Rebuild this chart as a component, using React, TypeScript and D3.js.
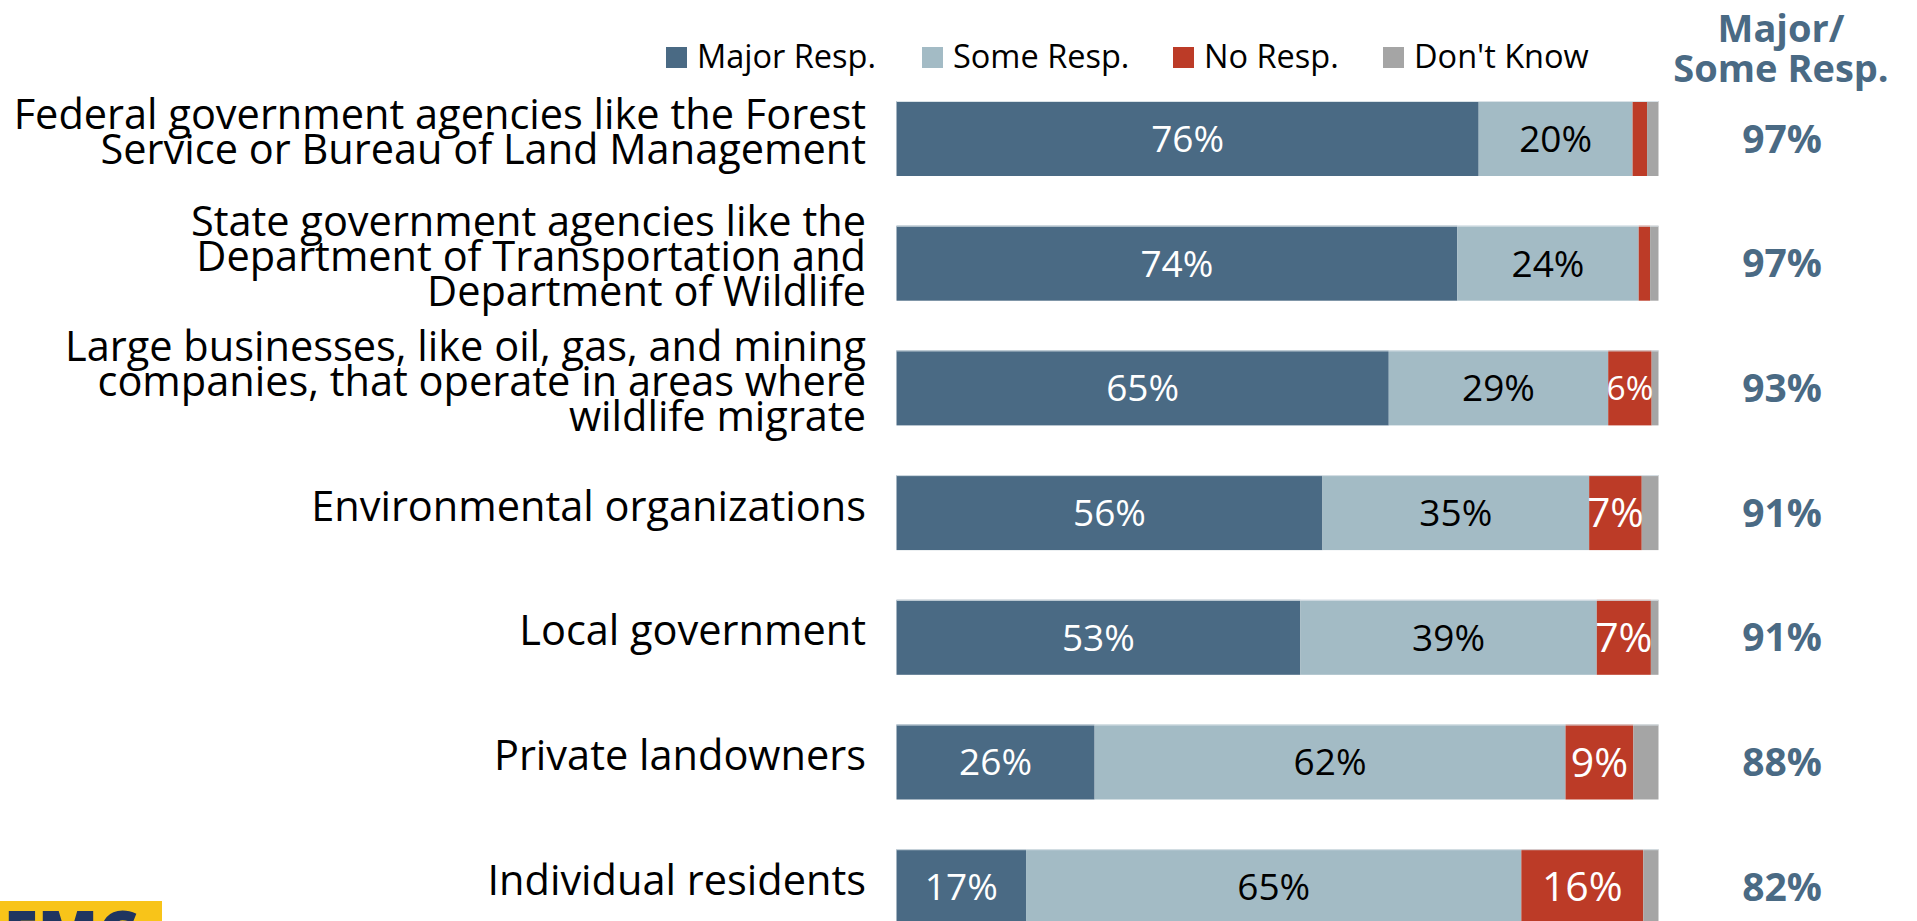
import React from "react";
import * as d3 from "d3";

const categories = [
  ["Federal government agencies like the Forest", "Service or Bureau of Land Management"],
  ["State government agencies like the", "Department of Transportation and", "Department of Wildlife"],
  ["Large businesses, like oil, gas, and mining", "companies, that operate in areas where", "wildlife migrate"],
  ["Environmental organizations"],
  ["Local government"],
  ["Private landowners"],
  ["Individual residents"],
];
const seriesNames = ["Major Resp.", "Some Resp.", "No Resp.", "Don't Know"];
const majorResp = [76.4, 73.6, 64.6, 55.9, 53.0, 26.0, 17.0];
const someResp = [20.2, 23.8, 28.8, 35.0, 38.9, 61.8, 65.0];
const noResp = [1.9, 1.5, 5.7, 6.9, 7.1, 8.9, 16.0];
const dontKnow = [1.5, 1.1, 0.9, 2.2, 1.0, 3.3, 2.0];
const majorSomeTotal = [97, 97, 93, 91, 91, 88, 82];
const colors = ["#4A6A84", "#A3BBC5", "#BC3B27", "#A5A5A5"];
const labelColors = ["#FFFFFF", "#000000", "#FFFFFF", "#000000"];

const W = 1917;
const H = 921;
const FONT = "'Open Sans', sans-serif";

export default function App() {
  const series = [majorResp, someResp, noResp, dontKnow];
  const x = d3.scaleLinear().domain([0, 100]).range([896.5, 1658.5]);
  const y = d3
    .scaleBand<number>()
    .domain(d3.range(categories.length))
    .range([101, 101 + 6 * 124.7 + 75])
    .paddingInner((124.7 - 75) / 124.7)
    .paddingOuter(0);
  const bw = y.bandwidth();
  const stacked = categories.map((_, i) => {
    let acc = 0;
    return series.map((s, k) => {
      const x0 = acc;
      acc += s[i];
      return { k, v: s[i], x0, x1: acc };
    });
  });
  const legendX = [666, 922, 1173, 1383];
  const labelSize = (seg: { k: number; x0: number; x1: number }) => {
    if (seg.k !== 2) return 37;
    const w = x(seg.x1) - x(seg.x0);
    return Math.min(41, w / 1.3);
  };

  return (
    <svg
      width={W}
      height={H}
      style={{ position: "absolute", left: 0, top: 0, background: "#fff" }}
      fontFamily={FONT}
    >
      {/* legend */}
      {seriesNames.map((n, k) => (
        <g key={n}>
          <rect x={legendX[k]} y={47} width={21} height={21} fill={colors[k]} />
          <text x={legendX[k] + 31} y={68} fontSize={32.5} fill="#000">
            {n}
          </text>
        </g>
      ))}
      {/* right header */}
      <text x={1781} y={42} textAnchor="middle" fontSize={38} fontWeight={700} fill="#4A6A84">
        Major/
      </text>
      <text x={1781} y={82} textAnchor="middle" fontSize={38} fontWeight={700} fill="#4A6A84">
        Some Resp.
      </text>
      {categories.map((lines, i) => {
        const cy = (y(i) as number) + bw / 2;
        return (
          <g key={i}>
            {lines.map((ln, j) => (
              <text
                key={j}
                x={866}
                y={cy + 8 + (j - (lines.length - 1) / 2) * 35}
                textAnchor="end"
                fontSize={41.5}
                fill="#000"
              >
                {ln}
              </text>
            ))}
            {stacked[i].map((seg) => (
              <rect
                key={seg.k}
                x={x(seg.x0)}
                y={y(i)}
                width={x(seg.x1) - x(seg.x0)}
                height={bw}
                fill={colors[seg.k]}
              />
            ))}
            <line x1={x(0)} x2={x(100)} y1={(y(i) as number) + 0.5} y2={(y(i) as number) + 0.5} stroke="#D9E2E7" strokeWidth={1} />
            {stacked[i]
              .filter((seg) => seg.v >= 4)
              .map((seg) => {
                const fs = labelSize(seg);
                return (
                  <text
                    key={"l" + seg.k}
                    x={(x(seg.x0) + x(seg.x1)) / 2}
                    y={cy + fs * 0.36}
                    textAnchor="middle"
                    fontSize={fs}
                    fill={labelColors[seg.k]}
                  >
                    {Math.round(seg.v)}%
                  </text>
                );
              })}
            <text x={1782} y={cy + 14} textAnchor="middle" fontSize={39} fontWeight={700} fill="#4A6A84">
              {majorSomeTotal[i]}%
            </text>
          </g>
        );
      })}
      {/* logo fragment */}
      <rect x={0} y={901} width={162} height={30} fill="#F8C419" />
      <text x={4} y={955} fontSize={62} fontWeight={800} fill="#1F3560" fontFamily="'Open Sans', sans-serif">
        EMC
      </text>
    </svg>
  );
}
